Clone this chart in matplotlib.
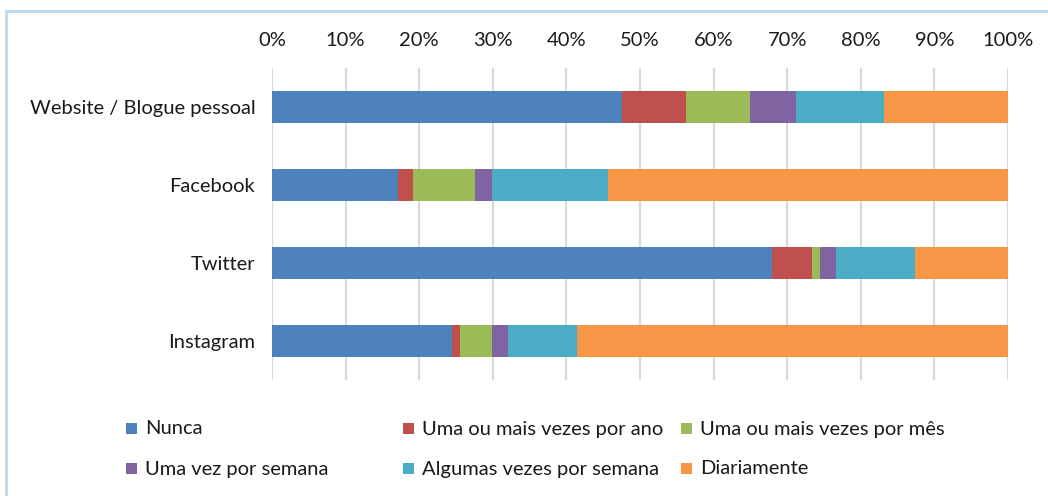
import matplotlib
matplotlib.use("Agg")
import matplotlib.pyplot as plt
from matplotlib.patches import Rectangle
from matplotlib.ticker import FuncFormatter, MultipleLocator

categories = ["Website / Blogue pessoal", "Facebook", "Twitter", "Instagram"]
series_names = ["Nunca", "Uma ou mais vezes por ano", "Uma ou mais vezes por mês",
                "Uma vez por semana", "Algumas vezes por semana", "Diariamente"]
nunca = [47.6, 17.1, 68.0, 24.5]
por_ano = [8.6, 2.1, 5.4, 1.0]
por_mes = [8.7, 8.4, 1.1, 4.4]
por_semana = [6.3, 2.3, 2.1, 2.1]
algumas = [11.9, 15.8, 10.7, 9.5]
diariamente = [16.9, 54.3, 12.7, 58.5]
colors = ["#4F81BD", "#C0504D", "#9BBB59", "#8064A2", "#4BACC6", "#F79646"]

plt.rcParams['font.family'] = ['Lato', 'DejaVu Sans']
TXT = "#1a1a1a"
FS = 14.5

W, H = 1048, 496
fig = plt.figure(figsize=(W / 100, H / 100), dpi=100)
ax = fig.add_axes([272 / W, 1 - 380 / H, (1008 - 272) / W, (380 - 68) / H])

series = [nunca, por_ano, por_mes, por_semana, algumas, diariamente]
left = [0.0] * len(categories)
ypos = list(range(len(categories)))
for name, vals, c in zip(series_names, series, colors):
    ax.barh(ypos, vals, left=left, height=0.41, color=c, label=name, zorder=3)
    left = [l + v for l, v in zip(left, vals)]

ax.set_xlim(0, 100)
ax.set_ylim(3.5, -0.5)
ax.set_yticks(ypos)
ax.set_yticklabels(categories, fontsize=FS, color=TXT)
ax.xaxis.set_major_locator(MultipleLocator(10))
ax.xaxis.set_major_formatter(FuncFormatter(lambda v, p: f"{int(round(v))}%"))
ax.xaxis.tick_top()
ax.tick_params(axis='x', length=0, labelsize=FS, labelcolor=TXT, pad=14)
ax.tick_params(axis='y', length=0, pad=12)
ax.grid(axis='x', color="#D9D9D9", linewidth=1.5, zorder=0)
for s in ax.spines.values():
    s.set_visible(False)

# legend laid out row-major, 3 columns x 2 rows
col_x = [126, 403, 681]
row_y = [428, 468]
sq = 11
for i, (name, c) in enumerate(zip(series_names, colors)):
    r, k = divmod(i, 3)
    x0, yc = col_x[k], row_y[r]
    fig.patches.append(Rectangle((x0 / W, 1 - (yc + sq / 2) / H), sq / W, sq / H,
                                 transform=fig.transFigure, facecolor=c,
                                 edgecolor="none"))
    fig.text((x0 + sq + 8) / W, 1 - (yc + 1) / H, name, fontsize=FS, color=TXT,
             va='center', ha='left')

fig.patches.append(Rectangle((6 / W, -0.1), 1.2, 1 - 11 / H + 0.1,
                             transform=fig.transFigure, fill=False,
                             edgecolor="#BDD7EE", linewidth=2))

fig.savefig("out.png", dpi=100)
